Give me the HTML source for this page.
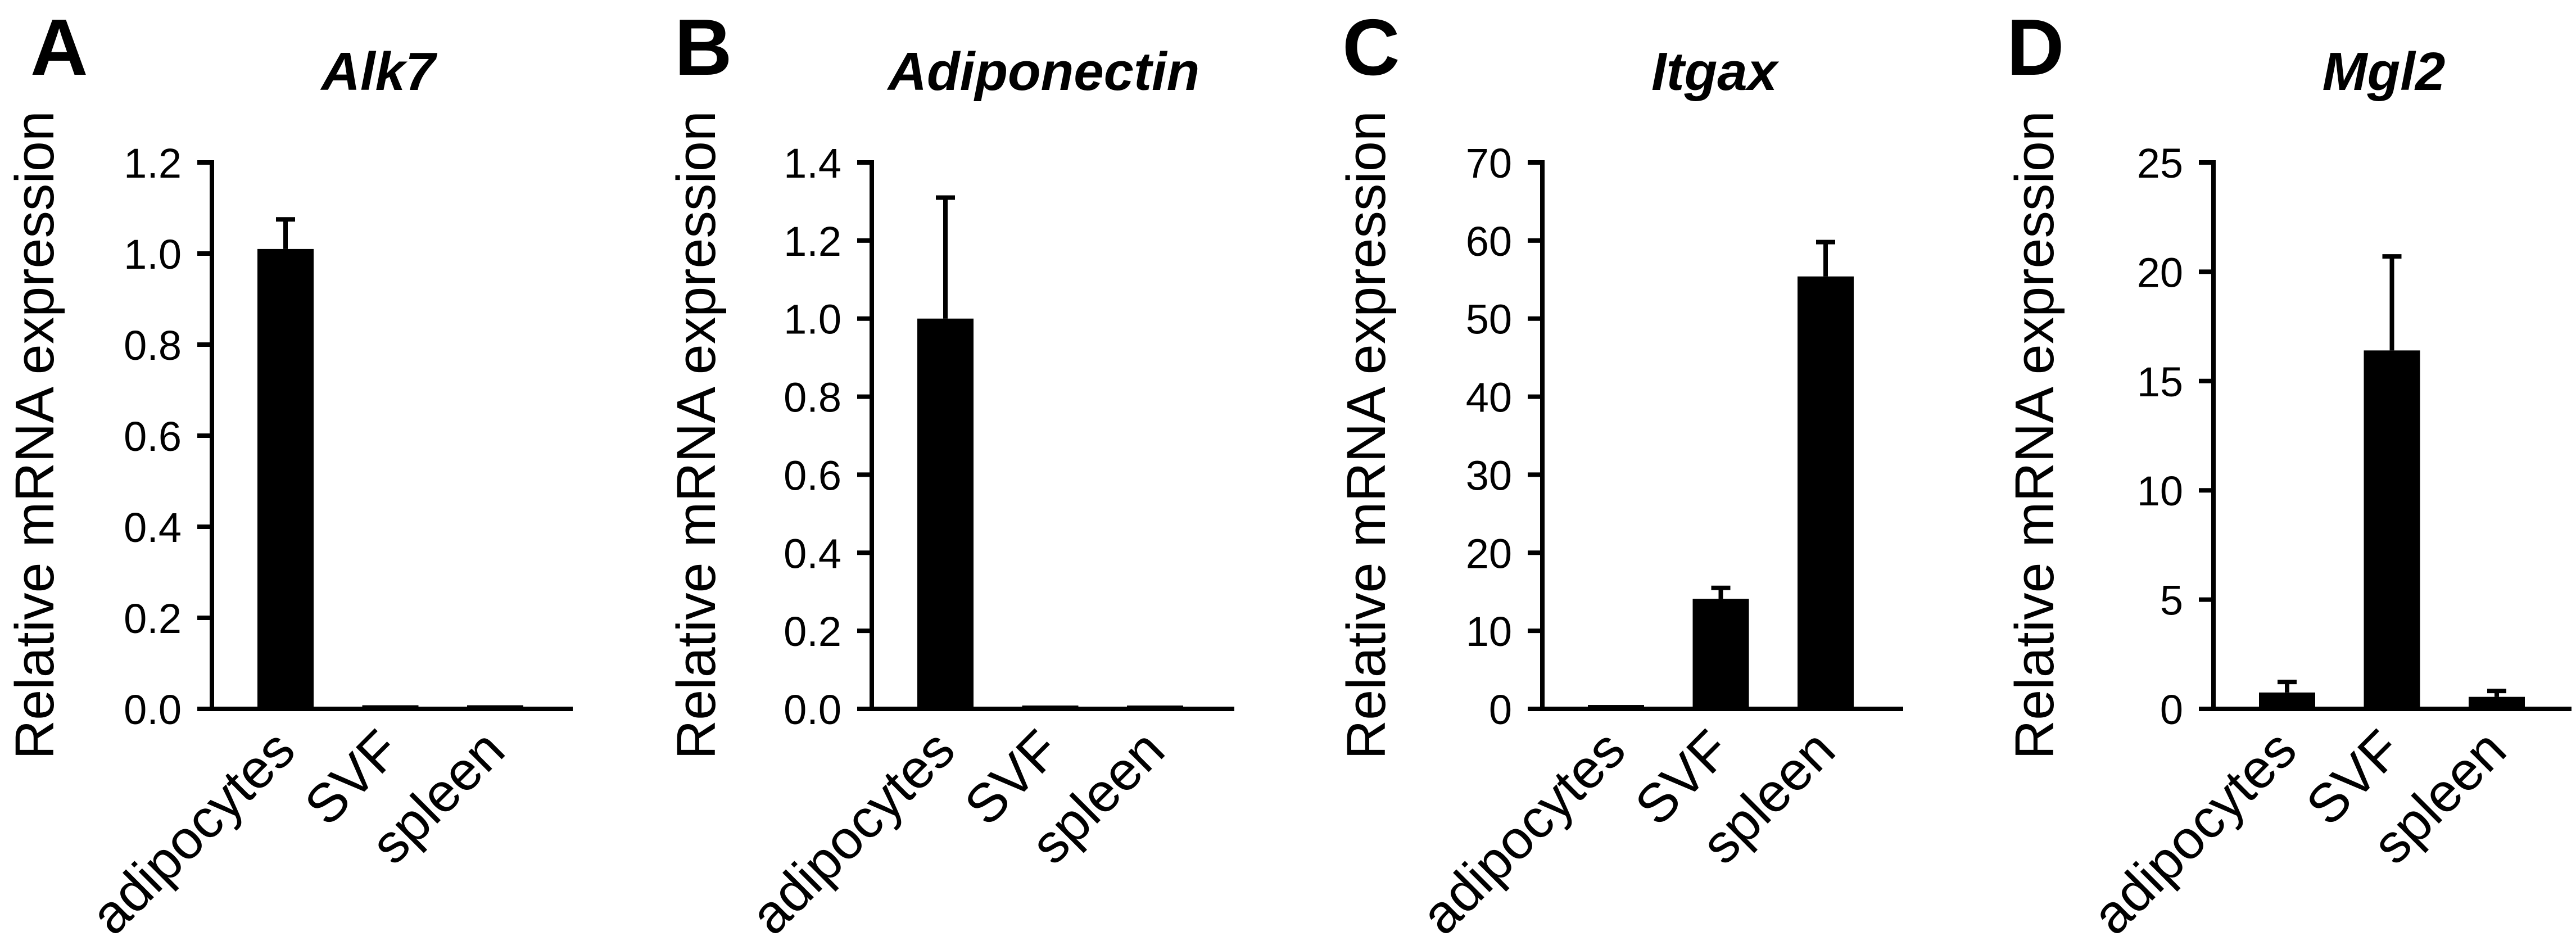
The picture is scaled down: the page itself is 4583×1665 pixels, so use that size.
<!DOCTYPE html>
<html><head><meta charset="utf-8"><style>
html,body{margin:0;padding:0;background:#fff}
svg{display:block}
text{font-family:"Liberation Sans",Arial,sans-serif;fill:#000}
</style></head><body>
<svg id="fig" width="4583" height="1665" viewBox="0 0 4583 1665" xmlns="http://www.w3.org/2000/svg"></svg>
<script>
const categories = ["adipocytes", "SVF", "spleen"];
const titles = ["Alk7", "Adiponectin", "Itgax", "Mgl2"];
const letters = ["A", "B", "C", "D"];
const valuesA = [1.01, 0.008, 0.008];
const errorsA = [0.065, 0, 0];
const valuesB = [1.0, 0.008, 0.008];
const errorsB = [0.31, 0, 0];
const valuesC = [0.5, 14.1, 55.4];
const errorsC = [0, 1.4, 4.4];
const valuesD = [0.75, 16.4, 0.55];
const errorsD = [0.48, 4.3, 0.27];
const ticksA = ["0.0","0.2","0.4","0.6","0.8","1.0","1.2"];
const ticksB = ["0.0","0.2","0.4","0.6","0.8","1.0","1.2","1.4"];
const ticksC = ["0","10","20","30","40","50","60","70"];
const ticksD = ["0","5","10","15","20","25"];
const maxes = [1.2, 1.4, 70, 25];

const NS = "http://www.w3.org/2000/svg";
const svgRoot = document.getElementById("fig");
function mk(tag, attrs, parent, txt){
  const e = document.createElementNS(NS, tag);
  for (const k in attrs) e.setAttribute(k, attrs[k]);
  if (txt !== undefined) e.textContent = txt;
  (parent || svgRoot).appendChild(e);
  return e;
}
const panels = [
  {axisX:377, endX:1019, ylabX:60, letterX:54, titleX:673, vals:valuesA, errs:errorsA, ticks:ticksA},
  {axisX:1551, endX:2196, ylabX:1237, letterX:1200, titleX:1857, vals:valuesB, errs:errorsB, ticks:ticksB},
  {axisX:2744, endX:3386, ylabX:2429, letterX:2388, titleX:3050, vals:valuesC, errs:errorsC, ticks:ticksC},
  {axisX:3938, endX:4575, ylabX:3618, letterX:3570, titleX:4241, vals:valuesD, errs:errorsD, ticks:ticksD}
];
const yTop = 289, yBase = 1261;
panels.forEach((p, pi) => {
  const g = mk("g", {});
  
  
  const ymax = maxes[pi];
  const y = v => yBase - (v / ymax) * (yBase - yTop);
  const xc = i => p.axisX + 131 + i * 186.5;
  const bw = 100;
  const L = mk("text", {x:p.letterX, y:133, "font-size":142, "font-weight":"bold"}, g, letters[pi]);
  
  
  const T = mk("text", {x:p.titleX, y:160, "font-size":96, "font-weight":"bold", "font-style":"italic", "text-anchor":"middle"}, g, titles[pi]);
  
  
  const YL = mk("text", {x:0, y:0, "font-size":97, "text-anchor":"middle", transform:`translate(${p.ylabX+35},774) rotate(-90)`}, g, "Relative mRNA expression");
  
  
  const ya = mk("line", {x1:p.axisX, y1:yTop-4, x2:p.axisX, y2:yBase+4, stroke:"#000", "stroke-width":8}, g);
  
  
  const xa = mk("line", {x1:p.axisX-26, y1:yBase, x2:p.endX, y2:yBase, stroke:"#000", "stroke-width":8}, g);
  
  
  const n = p.ticks.length;
  p.ticks.forEach((t, i) => {
    const v = ymax * i / (n - 1);
    const tk = mk("line", {x1:p.axisX-26, y1:y(v), x2:p.axisX, y2:y(v), stroke:"#000", "stroke-width":8}, g);
    
    
    const tl = mk("text", {x:p.axisX-54, y:y(v)+27, "font-size":74, "text-anchor":"end"}, g, t);
    
    
  });
  p.vals.forEach((v, i) => {
    const cx = xc(i);
    const h = Math.max(yBase - y(v), 6);
    const r = mk("rect", {x:cx-bw/2, y:yBase-h, width:bw, height:h, fill:"#000"}, g);
    
    
    const e = p.errs[i];
    if (e > 0) {
      const el = mk("line", {x1:cx, y1:y(v), x2:cx, y2:y(v+e), stroke:"#000", "stroke-width":8}, g);
      
      
      const ec = mk("line", {x1:cx-17, y1:y(v+e), x2:cx+17, y2:y(v+e), stroke:"#000", "stroke-width":8}, g);
      
      
    }
    const cl = mk("text", {x:0, y:0, "font-size":97, "text-anchor":"end", transform:`translate(${cx+22},1340) rotate(-45)`}, g, categories[i]);
    
    
  });
});
</script>
</body></html>
